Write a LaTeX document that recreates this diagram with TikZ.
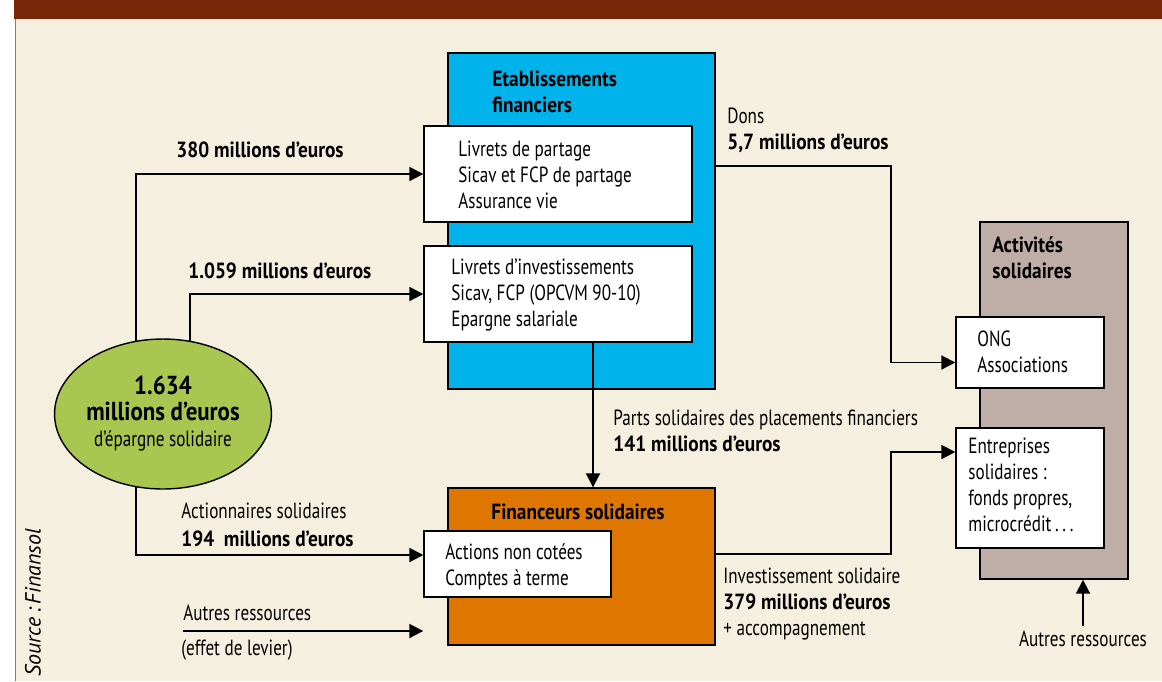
\documentclass[tikz,border=0pt]{standalone}
\usepackage{fontspec}
\setmainfont{PT Sans}[FakeStretch=0.78, BoldFeatures={FakeStretch=0.88}, ItalicFeatures={FakeStretch=1.0}]
\usetikzlibrary{arrows.meta,fit,shapes.geometric}

\definecolor{barbrown}{RGB}{119,38,8}
\definecolor{paper}{RGB}{245,239,224}
\definecolor{etabblue}{RGB}{0,180,235}
\definecolor{finorange}{RGB}{222,118,0}
\definecolor{actgrey}{RGB}{191,174,167}
\definecolor{epargnegreen}{RGB}{169,198,80}

\tikzset{
  frame/.style={draw=black, line width=0.8pt, inner sep=0pt},
  whitebox/.style={frame, fill=white},
  txt/.style={anchor=west, inner sep=0pt, align=left},
  flow/.style={line width=1.1pt, -{Triangle[length=0.28cm,width=0.28cm]}}
}

\begin{document}
\fontsize{12.5}{14.8}\selectfont
\begin{tikzpicture}[x=0.02cm,y=-0.02cm]
  % background and frame
  \useasboundingbox (0,0) rectangle (1162,681);
  \fill[white] (0,0) rectangle (1162,681);
  \fill[paper] (15,19) rectangle (1162,681);
  \fill[barbrown] (14,0) rectangle (1162,19);
  \draw[gray] (15,19) -- (15,681);

  % boxes
  \node[frame, fill=etabblue, fit={(448,53) (715,389)}] (etab) {};
  \node[txt, font=\bfseries] at (492,92) {Etablissements\\financiers};
  \node[whitebox, fit={(424,126) (692,222)}] (livp) {};
  \node[txt] at (458,175) {Livrets de partage\\Sicav et FCP de partage\\Assurance vie};
  \node[whitebox, fit={(424,246) (692,342)}] (livi) {};
  \node[txt] at (451,295) {Livrets d’investissements\\Sicav, FCP (OPCVM 90-10)\\Epargne salariale};

  \node[frame, fill=finorange, fit={(448,488) (715,645)}] (fin) {};
  \node[inner sep=0pt, font=\bfseries] at (578,512) {Financeurs solidaires};
  \node[whitebox, fit={(424,531) (611,597)}] (actions) {};
  \node[txt] at (445,567) {Actions non cotées\\Comptes à terme};

  \node[frame, fill=actgrey, fit={(980,222) (1128,579)}] (act) {};
  \node[txt, font=\bfseries] at (992,258) {Activités\\solidaires};
  \node[whitebox, fit={(956,317) (1104,388)}] (ong) {};
  \node[txt] at (977,352) {ONG\\Associations};
  \node[whitebox, fit={(956,428) (1104,548)}] (entr) {};
  \node[txt] at (968,485) {Entreprises\\solidaires :\\fonds propres,\\microcrédit\,.\,.\,.};

  \node[ellipse, draw=black, line width=0.8pt, fill=epargnegreen, inner sep=0pt,
        minimum width=3.76cm, minimum height=3cm, align=center] (ell) at (163,414)
        {{\fontsize{14.8}{15.5}\selectfont\bfseries 1.634}\\
         {\fontsize{14.8}{15.5}\selectfont\bfseries millions d’euros}\\
         d’épargne solidaire};

  % labels
  \node[txt, font=\bfseries] at (176,150) {380 millions d’euros};
  \node[txt, font=\bfseries] at (188,271) {1.059 millions d’euros};
  \node[txt] at (181,525) {Actionnaires solidaires\\[1pt]\textbf{194\ \ millions d’euros}};
  \node[txt] (autresT) at (183,613) {Autres ressources};
  \node[txt] at (181,650) {(effet de levier)};
  \node[txt] at (727,130) {Dons\\\textbf{5,7 millions d’euros}};
  \node[txt] at (613,431) {Parts solidaires des placements financiers\\\textbf{141 millions d’euros}};
  \node[txt] at (723,604) {Investissement solidaire\\\textbf{379 millions d’euros}\\+ accompagnement};
  \node[inner sep=0pt] (autresR) at (1083,639) {Autres ressources};
  \node[rotate=90, anchor=west, inner sep=0pt, font=\itshape] at (33,677) {Source\,:\,Finansol};

  % connectors
  \coordinate (autresL) at (183,631);
  \draw[flow] (ell.110) |- (livp.west);
  \draw[flow] (ell.70) |- (livi.west);
  \draw[flow] (ell.-110) |- ([yshift=0.18cm]actions.west);
  \draw[flow] (autresL) -- (autresL -| actions.west);
  \draw[flow] ([xshift=0.7cm]livi.south) -- ([xshift=0.7cm]livi.south |- fin.north);
  \draw[flow] ([yshift=1.1cm]etab.east) -- ++(175,0) |- ([yshift=-0.2cm]ong.west);
  \draw[flow] ([yshift=0.25cm]fin.east) -- ++(175,0) |- ([yshift=0.72cm]entr.west);
  \draw[flow] ([yshift=0.1cm]autresR.north) -- (autresR.north |- act.south);
\end{tikzpicture}
\end{document}
